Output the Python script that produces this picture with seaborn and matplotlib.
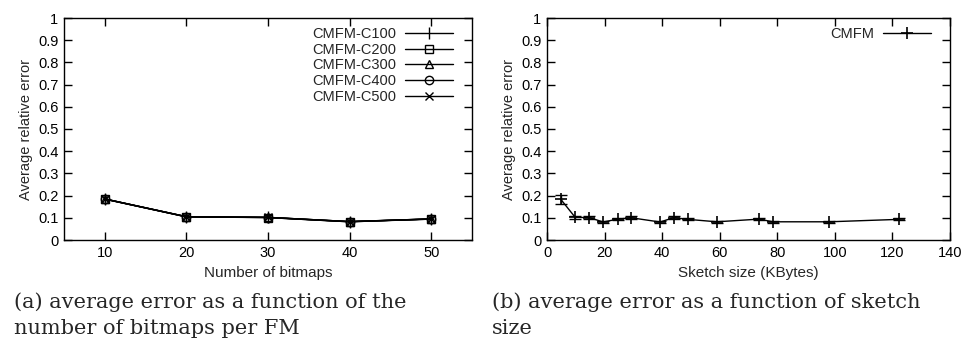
"""Average relative error of CMFM sketches (two panels)."""

import matplotlib

matplotlib.use("Agg")
import matplotlib.pyplot as plt
import numpy as np
import pandas as pd
import seaborn as sns

# panel (a): error vs number of bitmaps, one series per configuration
bitmaps = [10, 20, 30, 40, 50]
series_names = ["CMFM-C100", "CMFM-C200", "CMFM-C300", "CMFM-C400", "CMFM-C500"]
err_c100 = [0.185, 0.105, 0.102, 0.083, 0.095]
err_c200 = [0.184, 0.104, 0.101, 0.082, 0.094]
err_c300 = [0.185, 0.105, 0.102, 0.083, 0.095]
err_c400 = [0.184, 0.105, 0.101, 0.082, 0.095]
err_c500 = [0.185, 0.104, 0.102, 0.083, 0.094]
series_markers = ["|", "s", "^", "o", "x"]

# panel (b): error vs sketch size
sketch_kb = [4.8, 9.8, 14.7, 19.5, 24.6, 29.3, 39.3, 44.1, 48.9, 59.0, 73.6, 78.5, 98.0, 122.4]
sketch_err = [0.183, 0.102, 0.101, 0.081, 0.094, 0.100, 0.081, 0.101, 0.093, 0.082, 0.094, 0.082, 0.082, 0.093]
sketch_dev = [0.020, 0.008, 0.007, 0.006, 0.006, 0.007, 0.006, 0.007, 0.005, 0.005, 0.006, 0.005, 0.005, 0.004]

sns.set_theme(style="ticks")
plt.rcParams["font.family"] = ["Liberation Sans", "DejaVu Sans"]

FS = 10.5
fig = plt.figure(figsize=(9.64, 3.47), dpi=100)
W, H = 964, 347
ax_a = fig.add_axes([64 / W, (H - 240) / H, 408 / W, 222 / H])
ax_b = fig.add_axes([547 / W, (H - 240) / H, 403 / W, 222 / H])

all_errs = [err_c100, err_c200, err_c300, err_c400, err_c500]
for name, errs, mk in zip(series_names, all_errs, series_markers):
    df = pd.DataFrame({"bitmaps": bitmaps, "error": errs})
    filled = mk not in ("|", "x")
    sns.lineplot(
        data=df, x="bitmaps", y="error", color="black", linewidth=1,
        marker=mk, markersize=6 if mk != "|" else 8,
        markeredgecolor="black", markerfacecolor="none" if filled else "black",
        markeredgewidth=1, label=name, ax=ax_a,
    )

df_b = pd.DataFrame({"size": sketch_kb, "error": sketch_err})
sns.lineplot(data=df_b, x="size", y="error", color="black", linewidth=1,
             marker="+", markersize=9, markeredgewidth=1.2, markeredgecolor="black",
             label="CMFM", ax=ax_b)
ax_b.errorbar(sketch_kb, sketch_err, yerr=sketch_dev, fmt="none", ecolor="black",
              elinewidth=1, capsize=4, capthick=1)

for ax in (ax_a, ax_b):
    ax.set_ylim(0, 1)
    ax.set_yticks(np.arange(0, 1.01, 0.1))
    ax.set_yticklabels(["0"] + [f"{v:.1f}" for v in np.arange(0.1, 0.95, 0.1)] + ["1"])
    ax.set_ylabel("Average relative error", fontsize=FS, labelpad=4)
    ax.tick_params(direction="in", length=6, width=1, labelsize=FS, colors="black",
                   top=True, right=True, pad=4)
    for sp in ax.spines.values():
        sp.set_linewidth(1)
        sp.set_color("black")
    ax.legend(loc="upper right", bbox_to_anchor=(0.953, 0.96), frameon=False,
              markerfirst=False, fontsize=FS, handlelength=3.3, handletextpad=0.6,
              labelspacing=0.12, borderaxespad=0, borderpad=0)

ax_a.set_xlim(5, 55)
ax_a.set_xticks(bitmaps)
ax_a.set_xlabel("Number of bitmaps", fontsize=FS + 0.5, labelpad=5)
ax_b.set_xlim(0, 140)
ax_b.set_xticks(range(0, 141, 20))
ax_b.set_xlabel("Sketch size (KBytes)", fontsize=FS + 0.5, labelpad=5)

serif = ["DejaVu Serif"]
CS = 15
fig.text(14 / W, 1 - 302 / H, "(a) average error as a function of the", family=serif,
         fontsize=CS, va="center", ha="left")
fig.text(14 / W, 1 - 328 / H, "number of bitmaps per FM", family=serif,
         fontsize=CS, va="center", ha="left")
fig.text(492 / W, 1 - 302 / H, "(b) average error as a function of sketch", family=serif,
         fontsize=CS, va="center", ha="left")
fig.text(492 / W, 1 - 328 / H, "size", family=serif,
         fontsize=CS, va="center", ha="left")

fig.savefig("out.png", dpi=100)
